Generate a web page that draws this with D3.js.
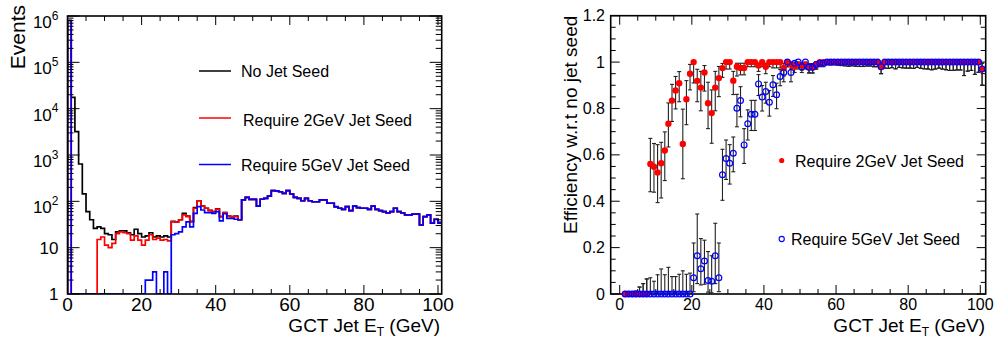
<!DOCTYPE html>
<html><head><meta charset="utf-8">
<script src="https://cdn.jsdelivr.net/npm/d3@7/dist/d3.min.js"></script>
<style>
html,body{margin:0;padding:0;background:#fff;}
svg{display:block;}
text{font-family:"Liberation Sans",Arial,Helvetica,sans-serif;fill:#000;}
</style></head><body>
<svg id="chart" width="994" height="338"></svg>
<script>
// ---------------- DATA ----------------
// Left panel: histogram bins (1 GeV wide, low edges)
const histBins = d3.range(0, 101);
const noSeed = [
 800000, 17600, 3190, 640, 145, 60, 40, 26, 28, 26,
 20, 19, 15, 22, 23, 23, 21, 19, 25, 20,
 17, 18, 21, 17, 18, 17, 18, 17, 37, 36,
 40, 55, 48, 37, 73, 103, 79, 71, 64, 60,
 69, 47, 57, 48, 47, 48, 40, 107, 122, 110,
 110, 79, 111, 116, 130, 170, 168, 161, 149, 170,
 144, 122, 116, 103, 116, 103, 98, 98, 107, 107,
 91, 91, 77, 71, 67, 77, 63, 79, 73, 71,
 71, 67, 79, 67, 63, 60, 56, 60, 71, 60,
 56, 51, 51, 53, 53, 31, 47, 51, 34, 41,
 35];
const seed2 = [
 800000, 0, 0, 0, 0, 0, 0, 0, 15, 17,
 11.4, 10, 12.4, 20, 22, 21, 20, 14.6, 18, 14.6,
 11.4, 14.6, 19, 15, 16, 14.6, 15, 14, 36, 36,
 40, 51, 47, 36, 71, 103, 79, 71, 63, 60,
 68, 47, 57, 48, 47, 47, 40, 107, 122, 110,
 110, 79, 111, 116, 130, 170, 168, 161, 149, 170,
 144, 122, 116, 103, 116, 103, 98, 98, 107, 107,
 91, 91, 76, 71, 67, 77, 63, 79, 73, 71,
 71, 67, 79, 67, 63, 60, 56, 60, 71, 60,
 56, 51, 51, 53, 53, 31, 47, 51, 34, 41,
 34];
const seed5 = [
 800000, 0, 0, 0, 0, 0, 0, 0, 0, 0,
 0, 0, 0, 0, 0, 0, 0, 0, 0, 0,
 1, 2, 2, 3, 1, 1, 3, 1, 19, 20,
 22, 28, 36, 28, 55, 77, 65, 57, 57, 55,
 60, 38, 54, 43, 43, 41, 40, 107, 122, 110,
 110, 79, 111, 116, 130, 170, 168, 161, 149, 170,
 144, 122, 116, 103, 116, 103, 98, 98, 107, 107,
 91, 91, 76, 71, 67, 77, 63, 79, 73, 71,
 71, 67, 79, 67, 63, 60, 56, 60, 71, 60,
 56, 51, 51, 53, 53, 31, 47, 51, 34, 41,
 34];
const histLabels = ["No Jet Seed", "Require 2GeV Jet Seed", "Require 5GeV Jet Seed"];
const histColors = ["#000000", "#ff0000", "#0000ff"];
const xMajorTicks = [0, 20, 40, 60, 80, 100];
const xMajorLabels = ["0", "20", "40", "60", "80", "100"];
const yLogExponents = [0, 1, 2, 3, 4, 5, 6];

// Right panel: efficiency per bin (bins 1..100, plotted at bin centre)
const effBins = d3.range(1, 101);
const eff2 = [
 0, 0, 0, 0, 0, 0, 0, .561, .549, .524,
 .564, .619, .734, .834, .878, .909, .647, .84, .95, 1,
 .919, .89, .955, .823, .78, .89, .931, .974, 1, 1,
 .92, .98, .975, .975, 1, 1, 1, .985, 1, .98,
 1, 1, 1, 1, .975, 1, .99, .98, .99, .985,
 .99, .978, .978, .99, 1, 1, 1, 1, 1, 1,
 1, 1, 1, 1, 1, 1, 1, 1, 1, 1,
 1, .98, 1, 1, 1, 1, 1, 1, 1, 1,
 1, 1, 1, 1, 1, 1, 1, 1, 1, 1,
 1, 1, 1, 1, 1, 1, 1, 1, 1, .97];
const eff2Lo = [
 0, 0, 0, 0, 0, 0, 0, .12, .11, .13,
 .15, .13, .10, .09, .08, .08, .15, .11, .07, .09,
 .09, .10, .08, .11, .13, .10, .08, .04, .03, .03,
 .06, .04, .03, .03, .02, .02, .02, .025, .02, .03,
 .02, .025, .025, .025, .035, .02, .02, .025, .02, .02,
 .02, .025, .025, .02, .011, .011, .011, .012, .011, .013,
 .015, .016, .018, .016, .018, .019, .019, .017, .017, .02,
 .02, .03, .026, .027, .024, .029, .023, .025, .026, .026,
 .027, .023, .027, .029, .03, .033, .03, .026, .03, .033,
 .036, .036, .034, .034, .058, .039, .036, .053, .044, .07];
const eff2Hi = [
 .003, .003, .006, .012, .03, .045, .065, .11, .10, .12,
 .09, .08, .09, .07, .06, .05, .15, .08, .04, 0,
 .05, .07, .03, .09, .10, .07, .05, .02, 0, 0,
 .04, .015, .02, .02, 0, 0, 0, .01, 0, .015,
 0, 0, 0, 0, .02, 0, .01, .015, .01, .01,
 .01, .015, .015, .01, 0, 0, 0, 0, 0, 0,
 0, 0, 0, 0, 0, 0, 0, 0, 0, 0,
 0, .015, 0, 0, 0, 0, 0, 0, 0, 0,
 0, 0, 0, 0, 0, 0, 0, 0, 0, 0,
 0, 0, 0, 0, 0, 0, 0, 0, 0, .025];
const eff5 = [
 0, 0, 0, 0, 0, 0, 0, 0, 0, 0,
 0, 0, 0, 0, 0, 0, 0, 0, 0, .07,
 .165, .109, .142, .058, .055, .165, .07, .514, .584, .564,
 .607, .801, .834, .643, .734, .775, .775, .906, .849, .873,
 .827, .902, .859, .938, .955, 1, .955, .995, 1, .98,
 1, .978, .978, .99, .995, .995, 1, 1, 1, 1,
 1, 1, 1, 1, 1, 1, 1, 1, 1, 1,
 1, .98, 1, 1, 1, 1, 1, 1, 1, 1,
 1, 1, 1, 1, 1, 1, 1, 1, 1, 1,
 1, 1, 1, 1, 1, 1, 1, 1, 1, .97];
const eff5Lo = [
 0, 0, 0, 0, 0, 0, 0, 0, 0, 0,
 0, 0, 0, 0, 0, 0, 0, 0, 0, .06,
 .12, .07, .10, .05, .05, .12, .06, .11, .09, .09,
 .08, .08, .07, .08, .07, .07, .07, .05, .06, .05,
 .06, .05, .06, .04, .04, .02, .04, .02, .02, .025,
 .02, .025, .025, .02, .015, .015, .011, .012, .011, .013,
 .015, .016, .018, .016, .018, .019, .019, .017, .017, .02,
 .02, .03, .026, .027, .024, .029, .023, .025, .026, .026,
 .027, .023, .027, .029, .03, .033, .03, .026, .03, .033,
 .036, .036, .034, .034, .058, .039, .036, .053, .044, .07];
const eff5Hi = [
 .003, .003, .006, .012, .03, .045, .065, .07, .055, .083,
 .108, .083, .115, .075, .075, .085, .10, .085, .09, .15,
 .18, .13, .09, .125, .11, .14, .15, .11, .08, .08,
 .07, .06, .06, .07, .06, .06, .06, .04, .05, .04,
 .05, .04, .05, .03, .03, 0, .03, .005, 0, .01,
 0, .015, .015, .01, .005, .005, 0, 0, 0, 0,
 0, 0, 0, 0, 0, 0, 0, 0, 0, 0,
 0, .015, 0, 0, 0, 0, 0, 0, 0, 0,
 0, 0, 0, 0, 0, 0, 0, 0, 0, 0,
 0, 0, 0, 0, 0, 0, 0, 0, 0, .025];
const effLabels = ["Require 2GeV Jet Seed", "Require 5GeV Jet Seed"];
const yEffTicks = [0, 0.2, 0.4, 0.6, 0.8, 1.0, 1.2];
const yEffLabels = ["0", "0.2", "0.4", "0.6", "0.8", "1", "1.2"];

// ---------------- DRAW ----------------
const svg = d3.select("#chart");
svg.append("rect").attr("width", 994).attr("height", 338).attr("fill", "#fff");

// ===== Left panel =====
const L = {x0: 67.5, x1: 441.7, y0: 16, y1: 294};
const xL = d3.scaleLinear().domain([0, 101]).range([L.x0, L.x1]);
const yL = d3.scaleLog().domain([1, 1e6]).range([L.y1, L.y0]);
const gL = svg.append("g");
svg.append("defs").append("clipPath").attr("id", "clipL")
  .append("rect").attr("x", L.x0).attr("y", L.y0).attr("width", L.x1 - L.x0).attr("height", L.y1 - L.y0);

function stepPath(vals) {
  let p = `M${xL(histBins[0])},${yL(1)}`;
  vals.forEach((v, i) => {
    const y = yL(Math.max(v, 1));
    p += `L${xL(histBins[i])},${y}L${xL(histBins[i] + 1)},${y}`;
  });
  return p;
}
[noSeed, seed2, seed5].forEach((s, k) => {
  gL.append("path").attr("d", stepPath(s)).attr("fill", "none")
    .attr("stroke", histColors[k]).attr("stroke-width", 1.7)
    .attr("clip-path", "url(#clipL)");
});

// ticks
const tk = gL.append("g").attr("stroke", "#000").attr("stroke-width", 1);
d3.range(0, 101, 5).forEach(v => {
  const len = xMajorTicks.includes(v) ? 9 : 5;
  const x = xL(v);
  tk.append("line").attr("x1", x).attr("x2", x).attr("y1", L.y1).attr("y2", L.y1 - len);
  tk.append("line").attr("x1", x).attr("x2", x).attr("y1", L.y0).attr("y2", L.y0 + len);
});
yLogExponents.forEach(e => {
  const y = yL(Math.pow(10, e));
  tk.append("line").attr("x1", L.x0).attr("x2", L.x0 + 12).attr("y1", y).attr("y2", y);
  tk.append("line").attr("x1", L.x1).attr("x2", L.x1 - 12).attr("y1", y).attr("y2", y);
  if (e < 6) {
    for (let m = 2; m <= 9; m++) {
      const ym = yL(m * Math.pow(10, e));
      tk.append("line").attr("x1", L.x0).attr("x2", L.x0 + 6).attr("y1", ym).attr("y2", ym);
      tk.append("line").attr("x1", L.x1).attr("x2", L.x1 - 6).attr("y1", ym).attr("y2", ym);
    }
  }
});
gL.append("rect").attr("x", L.x0).attr("y", L.y0).attr("width", L.x1 - L.x0).attr("height", L.y1 - L.y0)
  .attr("fill", "none").attr("stroke", "#000").attr("stroke-width", 1.6);

// tick labels
xMajorTicks.forEach((v, i) => {
  gL.append("text").attr("x", xL(v)).attr("y", 311).attr("text-anchor", "middle")
    .attr("font-size", 19).text(xMajorLabels[i]);
});
yLogExponents.forEach(e => {
  const y = yL(Math.pow(10, e));
  const t = gL.append("text").attr("x", 58.5).attr("text-anchor", "end").attr("font-size", 17);
  if (e === 0) { t.attr("y", y + 6).text("1"); }
  else if (e === 1) { t.attr("y", y + 6.5).text("10"); }
  else {
    t.attr("y", y + 12);
    t.append("tspan").text("10");
    t.append("tspan").attr("dy", -8.5).attr("font-size", 12).text(String(e));
  }
});
// axis titles
gL.append("text").attr("transform", "translate(25,5) rotate(-90)").attr("text-anchor", "end")
  .attr("font-size", 21).text("Events");
const tL = gL.append("text").attr("x", 440).attr("y", 332).attr("text-anchor", "end").attr("font-size", 19);
tL.append("tspan").text("GCT Jet E");
tL.append("tspan").attr("dy", 3.5).attr("font-size", 12).text("T");
tL.append("tspan").attr("dy", -3.5).text(" (GeV)");

// legend
const legY = [71, 118, 164.5];
const legTX = [241, 243, 241];
histLabels.forEach((lab, k) => {
  gL.append("line").attr("x1", 199).attr("x2", 231).attr("y1", legY[k]).attr("y2", legY[k])
    .attr("stroke", histColors[k]).attr("stroke-width", 1.5);
  gL.append("text").attr("x", legTX[k]).attr("y", legY[k] + 6 + (k === 1 ? 2 : 0))
    .attr("font-size", 16).text(lab);
});

// ===== Right panel =====
const R = {x0: 610.7, x1: 985.7, y0: 15.7, y1: 294};
const xR = d3.scaleLinear().domain([-2.5, 101.5]).range([R.x0, R.x1]);
const yR = d3.scaleLinear().domain([0, 1.2]).range([R.y1, R.y0]);
const gR = svg.append("g");

const tr = gR.append("g").attr("stroke", "#000").attr("stroke-width", 1);
d3.range(0, 101, 5).forEach(v => {
  const len = xMajorTicks.includes(v) ? 9 : 5;
  const x = xR(v);
  tr.append("line").attr("x1", x).attr("x2", x).attr("y1", R.y1).attr("y2", R.y1 - len);
  tr.append("line").attr("x1", x).attr("x2", x).attr("y1", R.y0).attr("y2", R.y0 + len);
});
d3.range(0, 25).forEach(i => {
  const v = i * 0.05;
  const len = (i % 4 === 0) ? 9 : 5;
  const y = yR(v);
  tr.append("line").attr("x1", R.x0).attr("x2", R.x0 + len).attr("y1", y).attr("y2", y);
  tr.append("line").attr("x1", R.x1).attr("x2", R.x1 - len).attr("y1", y).attr("y2", y);
});
gR.append("rect").attr("x", R.x0).attr("y", R.y0).attr("width", R.x1 - R.x0).attr("height", R.y1 - R.y0)
  .attr("fill", "none").attr("stroke", "#000").attr("stroke-width", 1.6);

function drawBars(vals, lo, hi) {
  const g = gR.append("g").attr("stroke", "#222").attr("stroke-width", 1.1);
  effBins.forEach((b, i) => {
    const x = xR(b + 0.5);
    const yTop = yR(vals[i] + hi[i]), yBot = yR(vals[i] - lo[i]);
    if (yBot - yTop < 0.5) return;
    g.append("line").attr("x1", x).attr("x2", x).attr("y1", yTop).attr("y2", yBot);
    if (hi[i] > 0) g.append("line").attr("x1", x - 2).attr("x2", x + 2).attr("y1", yTop).attr("y2", yTop);
    if (lo[i] > 0) g.append("line").attr("x1", x - 2).attr("x2", x + 2).attr("y1", yBot).attr("y2", yBot);
  });
}
drawBars(eff2, eff2Lo, eff2Hi);
drawBars(eff5, eff5Lo, eff5Hi);
gR.append("g").selectAll("circle").data(effBins).join("circle")
  .attr("cx", d => xR(d + 0.5)).attr("cy", (d, i) => yR(eff2[i])).attr("r", 3.2)
  .attr("fill", "#ff0000");
gR.append("g").selectAll("circle").data(effBins).join("circle")
  .attr("cx", d => xR(d + 0.5)).attr("cy", (d, i) => yR(eff5[i])).attr("r", 2.9)
  .attr("fill", "none").attr("stroke", "#0000ff").attr("stroke-width", 1.2);

// tick labels
xMajorTicks.forEach((v, i) => {
  gR.append("text").attr("x", xR(v)).attr("y", 310).attr("text-anchor", "middle")
    .attr("font-size", 16).text(xMajorLabels[i]);
});
yEffTicks.forEach((v, i) => {
  gR.append("text").attr("x", 605).attr("y", yR(v) + 5.5).attr("text-anchor", "end")
    .attr("font-size", 16).text(yEffLabels[i]);
});
gR.append("text").attr("transform", "translate(577,15.7) rotate(-90)").attr("text-anchor", "end")
  .attr("font-size", 19).text("Efficiency w.r.t no jet seed");
const tR = gR.append("text").attr("x", 985).attr("y", 332).attr("text-anchor", "end").attr("font-size", 19);
tR.append("tspan").text("GCT Jet E");
tR.append("tspan").attr("dy", 3.5).attr("font-size", 12).text("T");
tR.append("tspan").attr("dy", -3.5).text(" (GeV)");

// legend
gR.append("circle").attr("cx", 781.7).attr("cy", 160.5).attr("r", 2.6).attr("fill", "#ff0000");
gR.append("text").attr("x", 795).attr("y", 166.5).attr("font-size", 16).text(effLabels[0]);
gR.append("circle").attr("cx", 781.7).attr("cy", 239).attr("r", 2.6).attr("fill", "none")
  .attr("stroke", "#0000ff").attr("stroke-width", 1.1);
gR.append("text").attr("x", 791).attr("y", 245).attr("font-size", 16).text(effLabels[1]);
</script></body></html>
